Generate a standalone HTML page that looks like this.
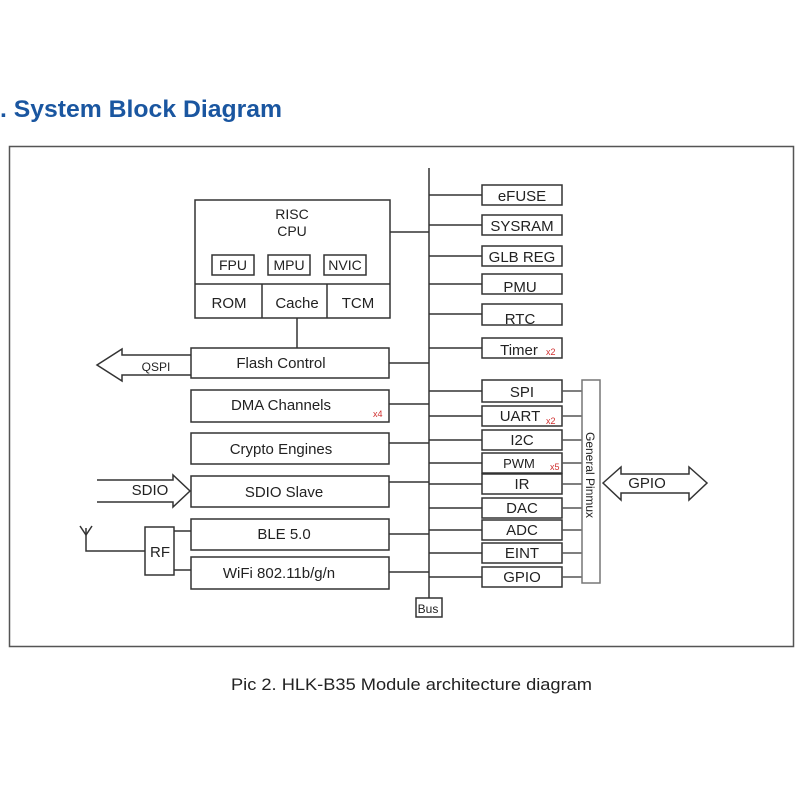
<!DOCTYPE html>
<html><head><meta charset="utf-8"><style>
html,body{margin:0;padding:0;background:#fff;width:800px;height:800px;overflow:hidden}
svg{display:block}
text{font-family:"Liberation Sans",Arial,sans-serif;fill:#222}
</style></head><body>
<svg width="800" height="800" viewBox="0 0 800 800" xmlns="http://www.w3.org/2000/svg">
<text x="0" y="117" font-size="24" font-weight="bold" textLength="282" lengthAdjust="spacingAndGlyphs" style="fill:#1a56a0">. System Block Diagram</text>
<rect x="9.5" y="146.5" width="784" height="500" fill="none" stroke="#555" stroke-width="1.5"/>
<g stroke="#333" stroke-width="1.5" fill="none">
<line x1="429" y1="168" x2="429" y2="598"/>
<rect x="416" y="598" width="26" height="19"/>
<rect x="195" y="200" width="195" height="118"/>
<line x1="195" y1="284" x2="390" y2="284"/>
<line x1="262" y1="284" x2="262" y2="318"/>
<line x1="327" y1="284" x2="327" y2="318"/>
<rect x="212" y="255" width="42" height="20"/>
<rect x="268" y="255" width="42" height="20"/>
<rect x="324" y="255" width="42" height="20"/>
<line x1="297" y1="318" x2="297" y2="348"/>
<rect x="191" y="348" width="198" height="30"/>
<rect x="191" y="390" width="198" height="32"/>
<rect x="191" y="433" width="198" height="31"/>
<rect x="191" y="476" width="198" height="31"/>
<rect x="191" y="519" width="198" height="31"/>
<rect x="191" y="557" width="198" height="32"/>
<rect x="145" y="527" width="29" height="48"/>
<line x1="174" y1="531" x2="191" y2="531"/>
<line x1="174" y1="570" x2="191" y2="570"/>
<polyline points="86,528 86,551 145,551"/>
<polyline points="80,526 86,535 92,526"/>
<line x1="390" y1="232" x2="429" y2="232"/>
<line x1="389" y1="363" x2="429" y2="363"/>
<line x1="389" y1="404" x2="429" y2="404"/>
<line x1="389" y1="443" x2="429" y2="443"/>
<line x1="389" y1="482" x2="429" y2="482"/>
<line x1="389" y1="534" x2="429" y2="534"/>
<line x1="389" y1="572" x2="429" y2="572"/>
<polyline points="191,355 122,355 122,349 97,365 122,381 122,375 191,375"/>
<polyline points="97,480 173,480 173,475 190,491 173,507 173,502 97,502"/>
<rect x="482" y="185" width="80" height="20"/>
<rect x="482" y="215" width="80" height="20"/>
<rect x="482" y="246" width="80" height="20"/>
<rect x="482" y="274" width="80" height="20"/>
<rect x="482" y="304" width="80" height="21"/>
<rect x="482" y="338" width="80" height="20"/>
<rect x="482" y="380" width="80" height="22"/>
<rect x="482" y="406" width="80" height="20"/>
<rect x="482" y="430" width="80" height="20"/>
<rect x="482" y="453" width="80" height="20"/>
<rect x="482" y="474" width="80" height="20"/>
<rect x="482" y="498" width="80" height="20"/>
<rect x="482" y="520" width="80" height="20"/>
<rect x="482" y="543" width="80" height="20"/>
<rect x="482" y="567" width="80" height="20"/>
<line x1="429" y1="195" x2="482" y2="195"/>
<line x1="429" y1="225" x2="482" y2="225"/>
<line x1="429" y1="256" x2="482" y2="256"/>
<line x1="429" y1="284" x2="482" y2="284"/>
<line x1="429" y1="314" x2="482" y2="314"/>
<line x1="429" y1="348" x2="482" y2="348"/>
<line x1="429" y1="391" x2="482" y2="391"/>
<line x1="429" y1="416" x2="482" y2="416"/>
<line x1="429" y1="440" x2="482" y2="440"/>
<line x1="429" y1="463" x2="482" y2="463"/>
<line x1="429" y1="484" x2="482" y2="484"/>
<line x1="429" y1="508" x2="482" y2="508"/>
<line x1="429" y1="530" x2="482" y2="530"/>
<line x1="429" y1="553" x2="482" y2="553"/>
<line x1="429" y1="577" x2="482" y2="577"/>
<g stroke="#555">
<line x1="562" y1="391" x2="582" y2="391"/>
<line x1="562" y1="416" x2="582" y2="416"/>
<line x1="562" y1="440" x2="582" y2="440"/>
<line x1="562" y1="463" x2="582" y2="463"/>
<line x1="562" y1="484" x2="582" y2="484"/>
<line x1="562" y1="508" x2="582" y2="508"/>
<line x1="562" y1="530" x2="582" y2="530"/>
<line x1="562" y1="553" x2="582" y2="553"/>
<line x1="562" y1="577" x2="582" y2="577"/>
</g>
<rect x="582" y="380" width="18" height="203" stroke="#777"/>
<polygon points="603,483 621,467 621,474 689,474 689,467 707,483 689,500 689,493 621,493 621,500"/>
</g>
<g font-size="15" text-anchor="middle">
<text x="292" y="219" font-size="14">RISC</text>
<text x="292" y="236" font-size="14">CPU</text>
<text x="233" y="270" font-size="14">FPU</text>
<text x="289" y="270" font-size="14">MPU</text>
<text x="345" y="270" font-size="14">NVIC</text>
<text x="229" y="308">ROM</text>
<text x="297" y="308">Cache</text>
<text x="358" y="308">TCM</text>
<text x="281" y="368">Flash Control</text>
<text x="281" y="410">DMA Channels</text>
<text x="281" y="454">Crypto Engines</text>
<text x="284" y="497">SDIO Slave</text>
<text x="284" y="539">BLE 5.0</text>
<text x="279" y="578">WiFi 802.11b/g/n</text>
<text x="160" y="557">RF</text>
<text x="428" y="613" font-size="12">Bus</text>
<text x="156" y="371" font-size="12">QSPI</text>
<text x="150" y="495">SDIO</text>
<text x="647" y="488">GPIO</text>
<text x="522" y="201">eFUSE</text>
<text x="522" y="231">SYSRAM</text>
<text x="522" y="262">GLB REG</text>
<text x="520" y="292">PMU</text>
<text x="520" y="324">RTC</text>
<text x="519" y="355">Timer</text>
<text x="522" y="397">SPI</text>
<text x="520" y="421">UART</text>
<text x="522" y="445">I2C</text>
<text x="519" y="468" font-size="13">PWM</text>
<text x="522" y="489">IR</text>
<text x="522" y="513">DAC</text>
<text x="522" y="535">ADC</text>
<text x="522" y="558">EINT</text>
<text x="522" y="582">GPIO</text>
</g>
<g font-size="9">
<text x="373" y="417" style="fill:#d03030">x4</text>
<text x="546" y="355" style="fill:#d03030">x2</text>
<text x="546" y="424" style="fill:#d03030">x2</text>
<text x="550" y="470" style="fill:#d03030">x5</text>
</g>
<text x="586" y="432" font-size="12" transform="rotate(90 586 432)">General Pinmux</text>
<text x="231" y="690" font-size="17" textLength="361" lengthAdjust="spacingAndGlyphs">Pic 2. HLK-B35 Module architecture diagram</text>
</svg>
</body></html>
